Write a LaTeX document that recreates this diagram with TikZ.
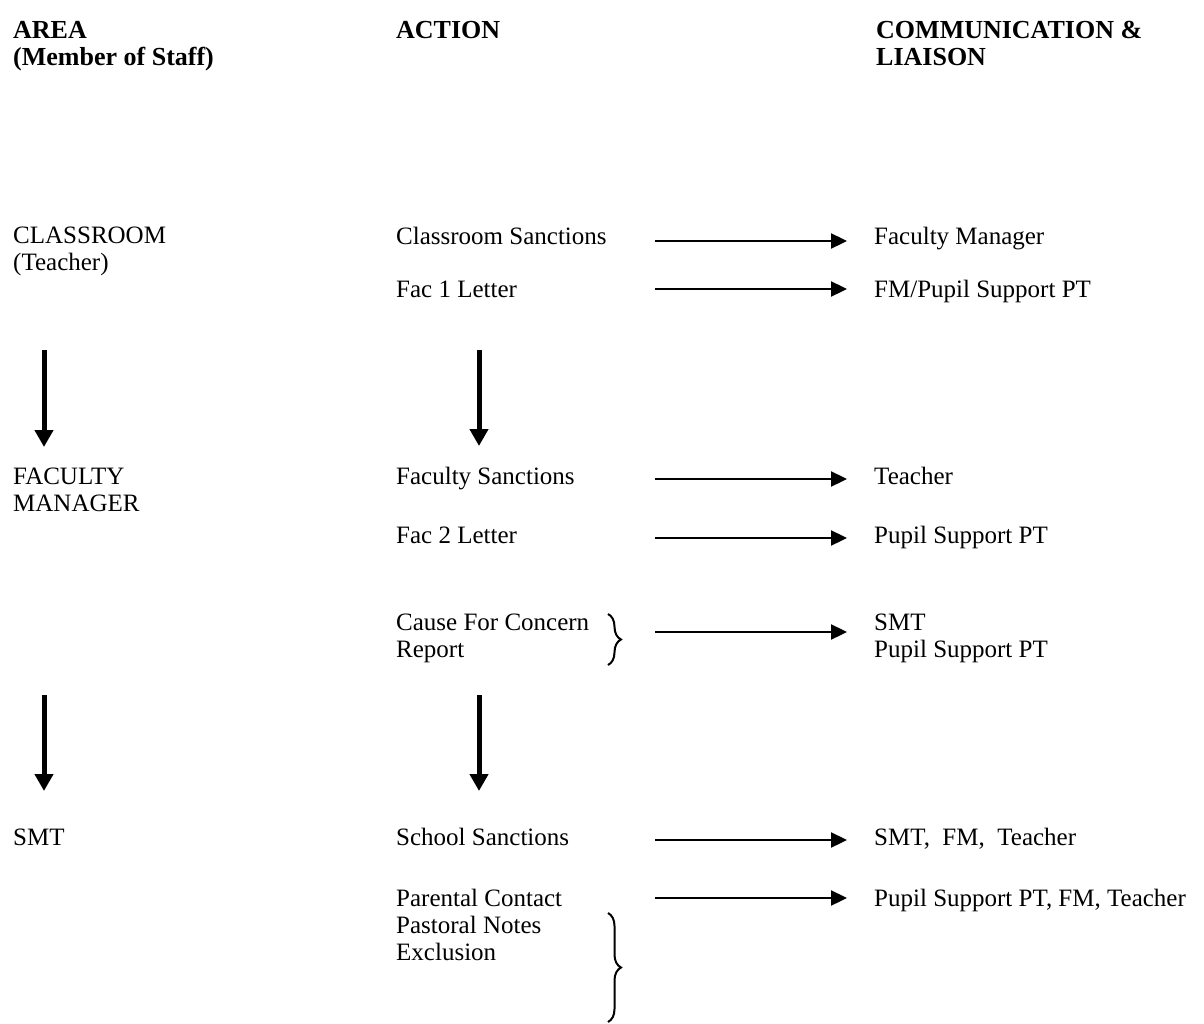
\documentclass[tikz,border=0pt]{standalone}
\usepackage{fontspec}
\setmainfont{Liberation Serif}
\usetikzlibrary{arrows.meta,decorations.pathreplacing}
\tikzset{
    txt/.style={font=\fontsize{25}{27}\selectfont, inner sep=0pt, anchor=base west, align=left},
    colhead/.style={txt, font=\fontsize{26}{27}\selectfont\bfseries},
    sidearrow/.style={line width=2.3pt, -{Triangle[length=16pt,width=15pt]}},
    downarrow/.style={line width=5pt, -{Triangle[length=17pt,width=18pt]}},
    bracket/.style={line width=2pt, decorate, decoration={brace, amplitude=13pt}}
}

\begin{document}
\begin{tikzpicture}[x=1pt,y=-1pt]
	\useasboundingbox (0,0) rectangle (1204,1024);
	% column headings (multi-line nodes sit on their last line)
	\node[colhead] (harea) at (13,66) {AREA\\(Member of Staff)};
	\node[colhead] (hact) at (396,39) {ACTION};
	\node[colhead] (hcom) at (876,66) {COMMUNICATION \&\\LIAISON};
	% start and end of the side arrows
	\coordinate (xl) at (655,0);
	\coordinate (xr) at (847,0);
	% classroom
	\node[txt] (cls) at (13,271) {CLASSROOM\\(Teacher)};
	\node[txt] (csan) at (396,245) {Classroom Sanctions};
	\node[txt] (fmgr) at (874,245) {Faculty Manager};
	\node[txt] (fac1) at (396,298) {Fac 1 Letter};
	\node[txt] (fmps) at (874,298) {FM/Pupil Support PT};
	\draw[sidearrow] ([yshift=4pt]csan.base -| xl) -- ([yshift=4pt]fmgr.base -| xr);
	\draw[sidearrow] ([yshift=9pt]fac1.base -| xl) -- ([yshift=9pt]fmps.base -| xr);
	% faculty
	\node[txt] (fac) at (13,511) {FACULTY\\MANAGER};
	\node[txt] (fsan) at (396,484) {Faculty Sanctions};
	\node[txt] (tch) at (874,484) {Teacher};
	\node[txt] (fac2) at (396,543) {Fac 2 Letter};
	\node[txt] (pspt) at (874,543) {Pupil Support PT};
	\node[txt] (ccr) at (396,657) {Cause For Concern\\Report};
	\node[txt] (smtps) at (874,657) {SMT\\Pupil Support PT};
	\draw[sidearrow] ([yshift=5pt]fsan.base -| xl) -- ([yshift=5pt]tch.base -| xr);
	\draw[sidearrow] ([yshift=5pt]fac2.base -| xl) -- ([yshift=5pt]pspt.base -| xr);
	\draw[sidearrow] ([yshift=25pt]ccr.base -| xl) -- ([yshift=25pt]smtps.base -| xr);
	\draw[bracket] (608,614) -- (608,665);
	% school
	\node[txt] (smt) at (13,845) {SMT};
	\node[txt] (ssan) at (396,845) {School Sanctions};
	\node[txt] (sft) at (874,845) {SMT,\ \ FM,\ \ Teacher};
	\node[txt] (pce) at (396,960) {Parental Contact\\Pastoral Notes\\Exclusion};
	\node[txt] (psft) at (874,906) {Pupil Support PT, FM, Teacher};
	\draw[sidearrow] ([yshift=5pt]ssan.base -| xl) -- ([yshift=5pt]sft.base -| xr);
	\draw[sidearrow] ([yshift=62pt]pce.base -| xl) -- ([yshift=8pt]psft.base -| xr);
	\draw[bracket] (608,913) -- (608,1022);
	% down the levels
	\draw[downarrow] (44,350) -- (44,447);
	\draw[downarrow] (479,350) -- (479,446);
	\draw[downarrow] (44,695) -- (44,791);
	\draw[downarrow] (479,695) -- (479,791);
\end{tikzpicture}
\end{document}
